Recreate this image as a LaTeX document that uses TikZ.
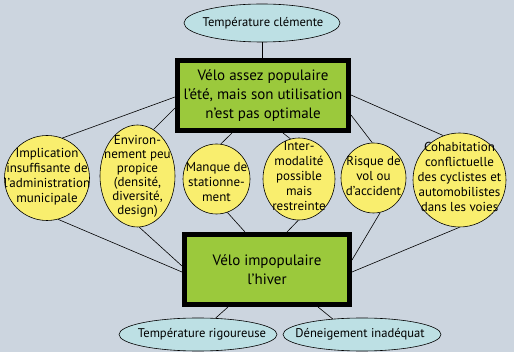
\documentclass[tikz,border=0pt]{standalone}
\usepackage{fontspec}
\setmainfont{PT Sans}
\usetikzlibrary{shapes.geometric,calc}
\pgfdeclarelayer{bottomlayer}
\pgfdeclarelayer{linelayer}
\pgfsetlayers{bottomlayer,linelayer,main}
\definecolor{bgc}{RGB}{204,213,223}
\definecolor{yel}{RGB}{249,238,110}
\definecolor{grn}{RGB}{155,201,60}
\definecolor{cya}{RGB}{189,224,228}
\tikzset{
  mainbox/.style={draw=black, line width=5pt, fill=grn, inner sep=0pt, align=center,
    font=\fontsize{15}{19}\selectfont},
  yelell/.style={ellipse, draw=black, line width=0.6pt, fill=yel, inner sep=0pt},
  yeltext/.style={align=center, inner sep=0pt, font=\fontsize{13}{15}\selectfont},
  cyaell/.style={ellipse, draw=black, line width=0.6pt, fill=cya, inner sep=0pt,
    minimum height=33pt},
  cyatext/.style={inner sep=0pt, font=\fontsize{12.6}{14}\selectfont},
  conn/.style={draw=black, line width=0.6pt}
}
\begin{document}
\begin{tikzpicture}[x=1pt,y=-1pt]
\begin{pgfonlayer}{bottomlayer}
\fill[bgc] (0,0) rectangle (514,352);
\end{pgfonlayer}
\useasboundingbox (0,0) rectangle (514,352);
% main boxes
\node[mainbox, minimum width=171pt, minimum height=70pt] (top) at (263,95.5)
  {Vélo assez populaire\\l’été, mais son utilisation\\n’est pas optimale};
\node[mainbox, minimum width=165pt, minimum height=70pt] (bot) at (267,269.5)
  {Vélo impopulaire\\l’hiver};
% cyan ellipses
\node[cyaell, minimum width=156pt, minimum height=38pt] (tc) at (262,23) {};
\node[cyatext] (tct) at (263,23) {Température clémente};
\node[cyaell, minimum width=158pt] (tr) at (198,334.5) {};
\node[cyatext] (trt) at (202,334.5) {Température rigoureuse};
\node[cyaell, minimum width=158pt] (dn) at (362,334.5) {};
\node[cyatext] (dnt) at (360,334.5) {Déneigement inadéquat};
% yellow ellipses
\node[yelell, minimum width=85pt, minimum height=85pt] (e1) at (47,178) {};
\node[yeltext] (t1) at (47,177) {Implication\\insuffisante de\\l’administration\\municipale};
\node[yelell, minimum width=75pt, minimum height=102pt] (e2) at (137.5,176) {};
\node[yeltext, font=\fontsize{13}{14}\selectfont] (t2) at (137.5,176) {Environ-\\nement peu\\propice\\(densité,\\diversité,\\design)};
\node[yelell, minimum width=67pt, minimum height=70pt] (e3) at (216.5,179) {};
\node[yeltext] (t3) at (216.5,182) {Manque de\\stationne-\\ment};
\node[yelell, minimum width=72pt, minimum height=82pt] (e4) at (299,179) {};
\node[yeltext] (t4) at (299,176) {Inter-\\modalité\\possible\\mais\\restreinte};
\node[yelell, minimum width=65pt, minimum height=70pt] (e5) at (373.5,178) {};
\node[yeltext] (t5) at (373.5,176) {Risque de\\vol ou\\d’accident};
\node[yelell, minimum width=93pt, minimum height=94pt] (e6) at (459.5,180) {};
\node[yeltext] (t6) at (459.5,177) {Cohabitation\\conflictuelle\\des cyclistes et\\automobilistes\\dans les voies};
% connectors
\begin{pgfonlayer}{linelayer}
\draw[conn] (tc.south) -- (tc.south |- top.north);
\draw[conn] (e1.69) -- ($(top.west)+(0,1.5)$);
\draw[conn] (e2.71) -- ($(top.west)+(0,12.5)$);
\draw[conn] (e3.83) -- ($(top.south)+(-31,0)$);
\draw[conn] (e4.102) -- ($(top.south)+(20,0)$);
\draw[conn] (e5.92) -- ($(top.east)+(0,19.5)$);
\draw[conn] (e6.110) -- ($(top.east)+(0,-0.5)$);
\draw[conn] (e1.-75) -- ($(bot.west)+(0,2.5)$);
\draw[conn] (e2.-88) -- ($(bot.west)+(0,-3.5)$);
\draw[conn] (e3.-72) -- ($(bot.north)+(-22,0)$);
\draw[conn] (e4.-91) -- ($(bot.north)+(20,0)$);
\draw[conn] (e5.-79) -- ($(bot.east)+(0,-9.5)$);
\draw[conn] (e6.-90) -- ($(bot.east)+(0,2.5)$);
\draw[conn] (tr.43) -- ($(bot.south)+(-39,0)$);
\draw[conn] (dn.152) -- ($(bot.south)+(51,0)$);
\end{pgfonlayer}
\end{tikzpicture}
\end{document}
